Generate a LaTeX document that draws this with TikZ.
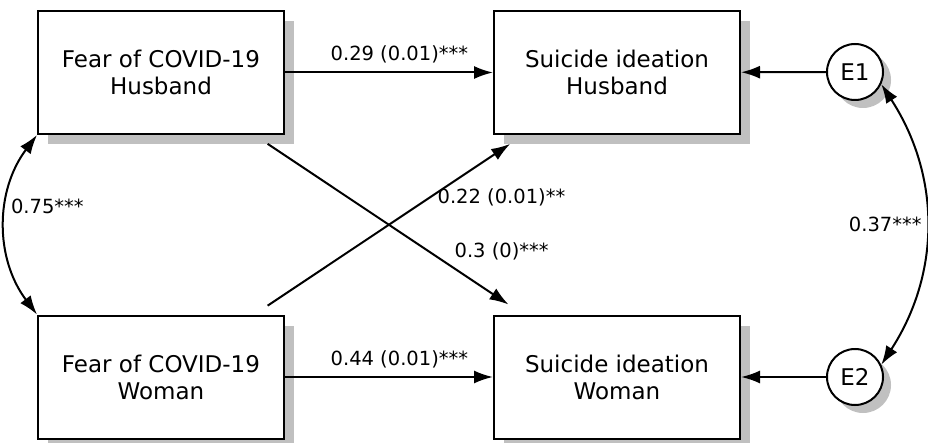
\documentclass[tikz,border=0pt]{standalone}
\usepackage{fontspec}
\setmainfont{DejaVu Sans}
\usetikzlibrary{arrows.meta}
\usetikzlibrary{shadows}
\usetikzlibrary{positioning}
\definecolor{custom-gray}{RGB}{192, 192, 192}

\begin{document}
\begin{tikzpicture}[x=1pt, y=1pt,
    varbox/.style={draw=black, fill=white, line width=2pt, minimum width=246pt, minimum height=123pt, align=center, font=\fontsize{23}{27}\selectfont, drop shadow={shadow xshift=10pt, shadow yshift=-10pt, fill=custom-gray, opacity=1}},
    errnode/.style={circle, draw=black, fill=white, line width=2pt, minimum size=56pt, inner sep=0pt, font=\fontsize{23}{27}\selectfont, drop shadow={shadow xshift=8pt, shadow yshift=-8pt, fill=custom-gray, opacity=1}},
    pathline/.style={line width=2pt, -{Latex[length=19pt, width=13pt]}},
    corrline/.style={line width=2pt, {Latex[length=19pt, width=13pt]}-{Latex[length=19pt, width=13pt]}},
    coef/.style={font=\fontsize{19.5}{22}\selectfont}]
\useasboundingbox (0,0) rectangle (928,442);
\node[varbox] (fear-husband) at (161,369.5) {Fear of COVID-19\\Husband};
\node[varbox] (fear-woman) at (161,65) {Fear of COVID-19\\Woman};
\node[varbox] (ideation-husband) at (617,369.5) {Suicide ideation\\Husband};
\node[varbox] (ideation-woman) at (617,65) {Suicide ideation\\Woman};
\node[errnode] (e1) at (855,370) {E1};
\node[errnode] (e2) at (855,65) {E2};
\draw[pathline] (fear-husband) -- node[coef, pos=0.55, above=5pt] {0.29 (0.01)***} (ideation-husband);
\draw[pathline] (fear-woman) -- node[coef, pos=0.55, above=5pt] {0.44 (0.01)***} (ideation-woman);
\draw[pathline, shorten <=16pt, shorten >=18pt] (fear-husband) -- node[coef, pos=0.65, right=21pt] {0.3 (0)***} (ideation-woman);
\draw[pathline, shorten <=16pt, shorten >=16pt] (fear-woman) -- node[coef, pos=0.65, right=4pt] {0.22 (0.01)**} (ideation-husband);
\draw[pathline] (e1) -- (ideation-husband);
\draw[pathline] (e2) -- (ideation-woman);
\draw[corrline] (fear-husband.south west) to[bend right=37] node[coef, pos=0.4, right] {0.75***} (fear-woman.north west);
\draw[corrline] (e1.-25) to[bend left=33] node[coef, midway, left] {0.37***} (e2.25);
\end{tikzpicture}
\end{document}
